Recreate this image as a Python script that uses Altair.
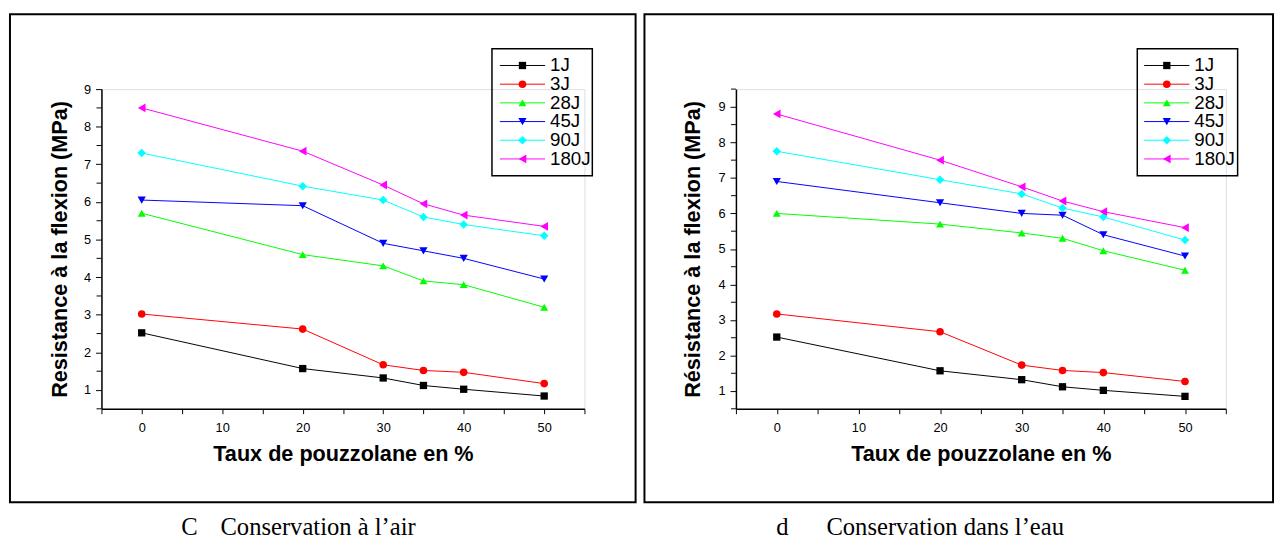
import json
import altair as alt
import pandas as pd

# ---------------- data ----------------
taux = [0, 20, 30, 35, 40, 50]
series = ["1J", "3J", "28J", "45J", "90J", "180J"]

air_1J = [2.52, 1.57, 1.32, 1.12, 1.02, 0.84]
air_3J = [3.02, 2.62, 1.67, 1.52, 1.47, 1.17]
air_28J = [5.70, 4.60, 4.30, 3.90, 3.80, 3.20]
air_45J = [6.05, 5.90, 4.90, 4.70, 4.50, 3.95]
air_90J = [7.30, 6.42, 6.05, 5.60, 5.40, 5.10]
air_180J = [8.50, 7.35, 6.45, 5.95, 5.65, 5.35]

eau_1J = [2.52, 1.57, 1.32, 1.12, 1.02, 0.85]
eau_3J = [3.17, 2.67, 1.73, 1.58, 1.52, 1.27]
eau_28J = [6.00, 5.70, 5.45, 5.30, 4.95, 4.40]
eau_45J = [6.90, 6.30, 6.00, 5.95, 5.40, 4.80]
eau_90J = [7.75, 6.95, 6.55, 6.15, 5.90, 5.25]
eau_180J = [8.80, 7.50, 6.75, 6.35, 6.05, 5.60]

x_ticks = [-5, 0, 5, 10, 15, 20, 25, 30, 35, 40, 45, 50, 55]
y_major = [1, 2, 3, 4, 5, 6, 7, 8, 9]
y_minor_air = [0.5, 1.5, 2.5, 3.5, 4.5, 5.5, 6.5, 7.5, 8.5]
y_minor_eau = [0.5, 1.5, 2.5, 3.5, 4.5, 5.5, 6.5, 7.5, 8.5, 9.5]

colors = ["#000000", "#FF0000", "#00FF00", "#0000FF", "#00FFFF", "#FF00FF"]
shapes = ["square", "circle", "triangle-up", "triangle-down", "diamond", "triangle-left"]
sizes = [55, 80, 250, 250, 230, 250]


def long_df(cols):
    rows = []
    for s, vals in zip(series, cols):
        for t, v in zip(taux, vals):
            rows.append({"taux": t, "val": v, "serie": s})
    return pd.DataFrame(rows)


df_air = long_df([air_1J, air_3J, air_28J, air_45J, air_90J, air_180J])
df_eau = long_df([eau_1J, eau_3J, eau_28J, eau_45J, eau_90J, eau_180J])
legend_df = pd.DataFrame({"serie": series})

FONT = "Liberation Sans"
SERIF = "Liberation Serif"
H = 325
LEG_TOP = -24
LEG_STEP = 19
leg_expr = f"indexof({json.dumps(series)}, datum.serie) * {LEG_STEP} + {LEG_TOP}"

color_enc = alt.Color("serie:N", scale=alt.Scale(domain=series, range=colors), legend=None)
shape_enc = alt.Shape("serie:N", scale=alt.Scale(domain=series, range=shapes), legend=None)
size_enc = alt.Size("serie:N", scale=alt.Scale(domain=series, range=sizes), legend=None)


def panel(df, ydom, yminor, ytitle, W, leg, frame_r, letter, letter_x, caption, caption_x, title_x):
    xenc = alt.X(
        "taux:Q",
        scale=alt.Scale(domain=[-5, 55], nice=False, zero=False),
        axis=alt.Axis(
            values=x_ticks,
            labelExpr="(datum.value >= 0 && datum.value <= 50 && datum.value % 10 == 0) ? datum.label : ''",
            labelOverlap=False,
            title="Taux de pouzzolane en %",
            titleFont=FONT, titleFontSize=22, titleFontWeight="bold", titleColor="black",
            titlePadding=10,
            labelFont=FONT, labelFontSize=13, labelColor="black", labelPadding=8,
            tickSize=5, tickColor="black", domainColor="black", domainWidth=1.5,
            grid=False, labelFlush=False,
        ),
    )
    yenc = alt.Y(
        "val:Q",
        scale=alt.Scale(domain=ydom, nice=False, zero=False),
        axis=alt.Axis(
            values=y_major,
            labelOverlap=False,
            title=ytitle,
            titleFont=FONT, titleFontSize=22, titleFontWeight="bold", titleColor="black",
            titleX=title_x,
            labelFont=FONT, labelFontSize=13, labelColor="black", labelPadding=5,
            tickSize=6, tickColor="black", domainColor="black", domainWidth=1.5,
            grid=False, labelFlush=False,
        ),
    )
    lines = alt.Chart(df).mark_line(strokeWidth=1).encode(
        x=xenc, y=yenc, color=color_enc, detail="serie:N"
    )
    pts = alt.Chart(df).mark_point(filled=True, opacity=1).encode(
        x="taux:Q", y="val:Q", color=color_enc, shape=shape_enc, size=size_enc
    )
    minor = alt.Chart(pd.DataFrame({"val": yminor})).mark_rule(
        color="black", strokeWidth=1
    ).encode(x=alt.value(-5), x2=alt.value(0), y="val:Q")

    lx0, lx1, lmark, ltext, bx0, bx1 = leg
    ly = alt.Y("ly:Q", scale=None)
    leg_base = alt.Chart(legend_df).transform_calculate(ly=leg_expr)
    leg_rule = leg_base.mark_rule(strokeWidth=1).encode(
        x=alt.value(lx0), x2=alt.value(lx1), y=ly, color=color_enc
    )
    leg_pt = leg_base.mark_point(filled=True, opacity=1).encode(
        x=alt.value(lmark), y=ly, color=color_enc, shape=shape_enc, size=size_enc
    )
    leg_txt = leg_base.mark_text(
        align="left", baseline="middle", font=FONT, fontSize=19, color="black"
    ).encode(x=alt.value(ltext), y=ly, text="serie:N")
    leg_box = alt.Chart(alt.Data(values=[{}])).mark_rect(
        fillOpacity=0, stroke="black", strokeWidth=1.5
    ).encode(x=alt.value(bx0), x2=alt.value(bx1), y=alt.value(-41), y2=alt.value(88))

    frame = alt.Chart(alt.Data(values=[{}])).mark_rect(
        fillOpacity=0, stroke="black", strokeWidth=2
    ).encode(x=alt.value(-93), x2=alt.value(W + frame_r), y=alt.value(-76), y2=alt.value(H + 95))
    cap1 = alt.Chart(alt.Data(values=[{}])).mark_text(
        align="left", baseline="alphabetic", font=SERIF, fontSize=25, color="black"
    ).encode(x=alt.value(letter_x), y=alt.value(453), text=alt.value(letter))
    cap2 = alt.Chart(alt.Data(values=[{}])).mark_text(
        align="left", baseline="alphabetic", font=SERIF, fontSize=25, color="black"
    ).encode(x=alt.value(caption_x), y=alt.value(453), text=alt.value(caption))

    return alt.layer(
        lines, pts, minor, leg_rule, leg_pt, leg_txt, leg_box, frame, cap1, cap2
    ).properties(width=W, height=H)


left = panel(
    df_air, [0.5, 9], y_minor_air, "Resistance à la flexion (MPa)", 491,
    (405, 451, 428, 456, 397, 499), 52, "C", 81, "Conservation à l\u2019air", 121, -31,
)
right = panel(
    df_eau, [0.5, 9.5], y_minor_eau, "Résistance à la flexion (MPa)", 498,
    (415, 461, 438, 466, 408, 510), 48, "d", 41, "Conservation dans l\u2019eau", 92, -32,
)

chart = alt.hconcat(left, right, spacing=5).properties(
    padding={"left": 0, "top": 0, "right": 0, "bottom": 0}
).configure_view(strokeWidth=0).configure(font=FONT)

chart.save("out.html", embed_options={"renderer": "svg", "actions": False})
